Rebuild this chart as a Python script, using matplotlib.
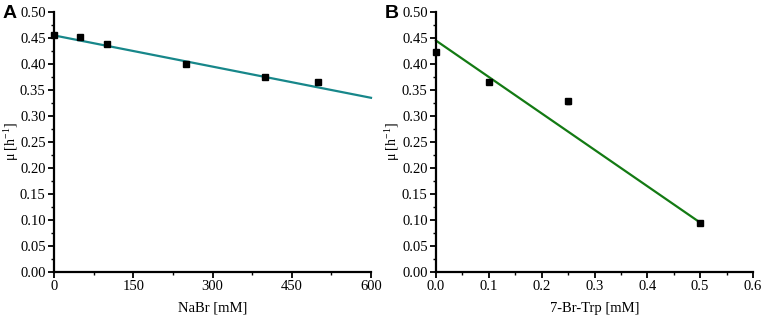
import matplotlib
matplotlib.use("Agg")
import matplotlib.pyplot as plt
import numpy as np
from matplotlib.ticker import MultipleLocator

# Panel A data
nabr_x = [0, 50, 100, 250, 400, 500]
nabr_mu = [0.456, 0.452, 0.439, 0.400, 0.375, 0.366]
nabr_err = [0.003, 0.003, 0.003, 0.004, 0.003, 0.004]
nabr_fit_x = [0, 600]
nabr_fit_y = [0.455, 0.335]

# Panel B data
trp_x = [0.0, 0.1, 0.25, 0.5]
trp_mu = [0.423, 0.366, 0.328, 0.095]
trp_err = [0.004, 0.004, 0.004, 0.003]
trp_fit_x = [0.0, 0.5]
trp_fit_y = [0.445, 0.095]

plt.rcParams['font.family'] = ['Liberation Serif', 'DejaVu Serif']
plt.rcParams['mathtext.fontset'] = 'custom'
plt.rcParams['mathtext.rm'] = 'Liberation Serif'

fig = plt.figure(figsize=(7.65, 3.24), dpi=100)
W, H = 765, 324
axA = fig.add_axes([54 / W, 1 - 272 / H, (371 - 54) / W, (272 - 12) / H])
axB = fig.add_axes([436 / W, 1 - 272 / H, (753 - 436) / W, (272 - 12) / H])


def style(ax, lx):
    for s in ['top', 'right']:
        ax.spines[s].set_visible(False)
    for s in ['left', 'bottom']:
        ax.spines[s].set_linewidth(1.6)
    ax.tick_params(which='major', direction='out', length=4, width=1.3, labelsize=10.5, pad=2)
    ax.tick_params(which='minor', direction='out', length=2.5, width=1.0)
    ax.set_ylim(0, 0.5)
    ax.yaxis.set_major_locator(MultipleLocator(0.05))
    ax.yaxis.set_minor_locator(MultipleLocator(0.025))
    ax.yaxis.set_major_formatter(matplotlib.ticker.FormatStrFormatter('%.2f'))
    ax.set_ylabel(r'μ [h$^{\mathregular{-1}}$]', fontsize=10)
    ax.yaxis.set_label_coords(lx, 0.5)


style(axA, (21 - 54) / 317)
axA.plot(nabr_fit_x, nabr_fit_y, color='#17878a', lw=1.6, zorder=2, clip_on=False)
axA.errorbar(nabr_x, nabr_mu, yerr=nabr_err, fmt='s', color='black', ms=4.5,
             capsize=1.5, elinewidth=1, zorder=3, clip_on=False)
axA.set_xlim(0, 600)
axA.xaxis.set_major_locator(MultipleLocator(150))
axA.xaxis.set_minor_locator(MultipleLocator(75))
axA.set_xlabel('NaBr [mM]', fontsize=10.5, labelpad=6)

style(axB, (402 - 436) / 317)
axB.plot(trp_fit_x, trp_fit_y, color='#137a13', lw=1.6, zorder=2, clip_on=False)
axB.errorbar(trp_x, trp_mu, yerr=trp_err, fmt='s', color='black', ms=4.5,
             capsize=1.5, elinewidth=1, zorder=3, clip_on=False)
axB.set_xlim(0, 0.6)
axB.xaxis.set_major_locator(MultipleLocator(0.1))
axB.xaxis.set_minor_locator(MultipleLocator(0.05))
axB.xaxis.set_major_formatter(matplotlib.ticker.FormatStrFormatter('%.1f'))
axB.set_xlabel('7-Br-Trp [mM]', fontsize=10.5, labelpad=6)

fig.text(3 / W, 1 - 14 / H, 'A', fontsize=14, fontweight='bold', family='Liberation Sans', va='center')
fig.text(385 / W, 1 - 14 / H, 'B', fontsize=14, fontweight='bold', family='Liberation Sans', va='center')

fig.savefig('out.png', dpi=100)
